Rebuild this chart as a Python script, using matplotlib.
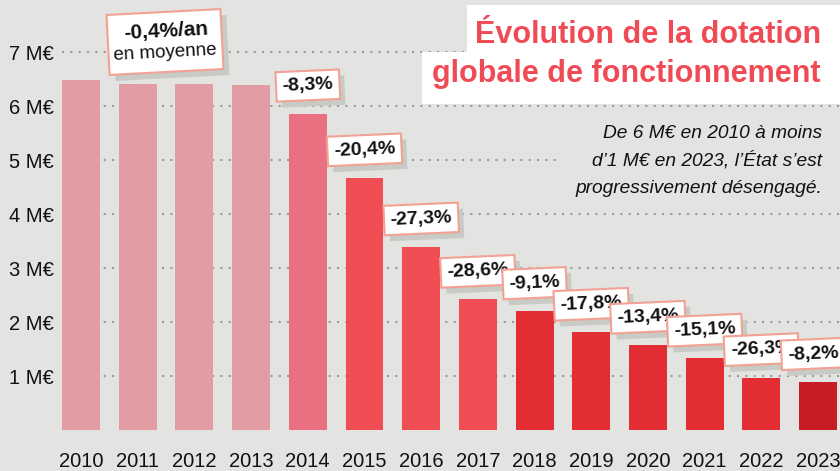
import matplotlib
matplotlib.use("Agg")
import matplotlib.pyplot as plt
import matplotlib.patheffects as pe
from matplotlib.patches import Rectangle
from matplotlib.transforms import IdentityTransform

# ---- data ----
years = [2010, 2011, 2012, 2013, 2014, 2015, 2016, 2017, 2018, 2019, 2020, 2021, 2022, 2023]
values = [6.48, 6.41, 6.41, 6.39, 5.86, 4.67, 3.39, 2.42, 2.20, 1.81, 1.57, 1.33, 0.97, 0.89]
changes = [None, None, None, None, -8.3, -20.4, -27.3, -28.6, -9.1, -17.8, -13.4, -15.1, -26.3, -8.2]
bar_colors = ['#E29CA3'] * 4 + ['#E87080'] + ['#F04D55'] * 3 + ['#E22D35'] * 5 + ['#C71C23']
yticks = [1, 2, 3, 4, 5, 6, 7]
ytick_labels = [f"{v} M€" for v in yticks]
title_lines = ["Évolution de la dotation", "globale de fonctionnement"]
subtitle_lines = ["De 6 M€ en 2010 à moins", "d’1 M€ en 2023, l’État s’est", "progressivement désengagé."]
mean_line1 = "-0,4%/an"
mean_line2 = "en moyenne"

BG = '#E3E3E1'
SHADOW = '#C7CAC5'
BORDER = '#F2A294'
FONT = ['Liberation Sans Narrow', 'Liberation Sans', 'DejaVu Sans']
W, H = 840, 471

fig = plt.figure(figsize=(8.4, 4.71), dpi=100, facecolor=BG)
ax = fig.add_axes([62 / W, 41 / H, (W - 62) / W, (H - 41) / H])
ax.set_facecolor(BG)

x = list(range(len(years)))
ax.bar(x, values, width=0.67, color=bar_colors, zorder=2)
ax.set_xlim(-0.335, 13.386)
ax.set_ylim(0, 7.963)

for y in yticks:
    ax.axhline(y, color='#9A9A9A', lw=1.5, linestyle=(0, (1, 3)), zorder=0)

ax.set_yticks(yticks)
ax.set_yticklabels(ytick_labels, fontfamily=FONT, fontsize=14.5, color='#111111')
ax.set_xticks(x)
ax.set_xticklabels([str(y) for y in years], fontfamily=FONT, fontsize=14.5, color='#111111')
ax.tick_params(axis='y', length=0, pad=6)
ax.tick_params(axis='x', length=0, pad=16)
for s in ax.spines.values():
    s.set_visible(False)

# percentage boxes (white box, salmon border, grey drop shadow)
ROT = 2.5
last = len(values) - 1
shadow_fx = [pe.SimplePatchShadow(offset=(3.8, -4.3), shadow_rgbFace=SHADOW, alpha=1), pe.Normal()]
for i, (v, c) in enumerate(zip(values, changes)):
    if c is None:
        continue
    lab = f"{c:.1f}".replace('.', ',') + '%'
    dx = -5 if i == last else 0
    ann = ax.annotate(lab, xy=(i, v), xytext=(dx, 28), textcoords='offset pixels',
                      ha='center', va='center', rotation=ROT, fontsize=14, fontweight='bold',
                      fontfamily=FONT, color='#111111', zorder=5, annotation_clip=False,
                      bbox=dict(boxstyle='square,pad=0.32', fc='white', ec=BORDER, lw=1.5))
    ann.get_bbox_patch().set_path_effects(shadow_fx)


def fx(px):
    return px / W


def fy(py):
    return 1 - py / H


# mean box (pixel coordinates, y measured upward)
bw, bh = 114, 60
cx, cy = 165, H - 42
fig.patches.append(Rectangle((cx - bw / 2 + 6, cy - bh / 2 - 6), bw, bh, angle=3,
                             rotation_point='center', transform=IdentityTransform(),
                             fc=SHADOW, ec='none', zorder=4))
fig.patches.append(Rectangle((cx - bw / 2, cy - bh / 2), bw, bh, angle=3,
                             rotation_point='center', transform=IdentityTransform(),
                             fc='white', ec=BORDER, lw=1.5, zorder=5))
fig.text(fx(166), fy(31), mean_line1, ha='center', va='center', rotation=3, fontsize=15,
         fontweight='bold', fontfamily=FONT, color='#111111', zorder=6)
fig.text(fx(165), fy(53), mean_line2, ha='center', va='center', rotation=3, fontsize=13.5,
         fontfamily=FONT, color='#111111', zorder=6)

# title boxes
fig.patches.append(Rectangle((fx(467), fy(52)), (W - 467) / W, 47 / H, transform=fig.transFigure,
                             fc='white', ec='none', zorder=2))
fig.patches.append(Rectangle((fx(422), fy(104)), (W - 422) / W, 52 / H, transform=fig.transFigure,
                             fc='white', ec='none', zorder=2))
fig.text(fx(821), fy(43), title_lines[0], ha='right', va='baseline', fontsize=22,
         fontweight='bold', fontfamily=FONT, color='#F04B55', zorder=3)
fig.text(fx(821), fy(82), title_lines[1], ha='right', va='baseline', fontsize=22,
         fontweight='bold', fontfamily=FONT, color='#F04B55', zorder=3)

# subtitle
fig.patches.append(Rectangle((fx(557), fy(200)), (W - 557) / W, 88 / H, transform=fig.transFigure,
                             fc=BG, ec='none', zorder=2))
for line, base in zip(subtitle_lines, [138, 166, 193]):
    fig.text(fx(822), fy(base), line, ha='right', va='baseline', fontsize=13.8,
             fontstyle='italic', fontfamily=FONT, color='#111111', zorder=3)

fig.savefig('out.png', dpi=100, facecolor=BG)
